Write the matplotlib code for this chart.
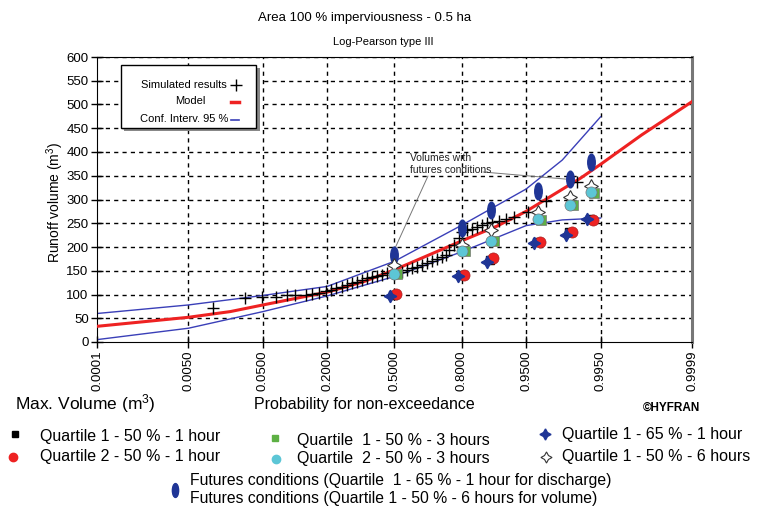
import matplotlib
matplotlib.use("Agg")
import matplotlib.pyplot as plt
import matplotlib.transforms as mtransforms
from matplotlib.path import Path
from matplotlib.lines import Line2D
from matplotlib.patches import Rectangle
from statistics import NormalDist

plt.rcParams['font.family'] = ['Liberation Sans', 'DejaVu Sans']
plt.rcParams['mathtext.fontset'] = 'custom'
plt.rcParams['mathtext.rm'] = 'Liberation Sans'
plt.rcParams['mathtext.it'] = 'Liberation Sans'

# probability axis
prob_ticks = [0.0001, 0.005, 0.05, 0.2, 0.5, 0.8, 0.95, 0.995, 0.9999]
prob_labels = ["0.0001", "0.0050", "0.0500", "0.2000", "0.5000",
               "0.8000", "0.9500", "0.9950", "0.9999"]
vol_ticks = list(range(0, 601, 50))

# Log-Pearson III model
model_p = [0.0001, 0.005, 0.02, 0.05, 0.2, 0.35, 0.5, 0.8, 0.9, 0.95, 0.99, 0.995, 0.999, 0.9999]
model_v = [33, 52, 64, 78, 105, 127, 152, 213, 244, 275, 345, 374, 436, 506]

# 95 % confidence interval
ci_p = [0.0001, 0.005, 0.05, 0.2, 0.5, 0.8, 0.95, 0.982, 0.995]
ci_upper = [60, 78, 98, 117, 170, 246, 322, 383, 474]
ci_lower = [5, 29, 64, 97, 138, 190, 245, 257, 261]

# simulated results
sim_p = [0.0118, 0.0312, 0.0482, 0.0685, 0.0887, 0.106, 0.1335, 0.150, 0.172, 0.195,
         0.213, 0.2315, 0.255, 0.2756, 0.297, 0.319, 0.342, 0.365, 0.389, 0.413,
         0.438, 0.4625, 0.5375, 0.562, 0.587, 0.611, 0.635, 0.658, 0.681, 0.703,
         0.7244, 0.741, 0.753, 0.7725, 0.791, 0.8015, 0.8186, 0.8345, 0.8497, 0.864,
         0.877, 0.8894, 0.905, 0.919, 0.933, 0.952, 0.9706, 0.9886]
sim_v = [71, 92, 95, 95, 99, 100, 99, 102, 104, 107,
         110, 113, 116, 120, 124, 127, 130, 134, 137, 139,
         141, 145, 148, 152, 155, 158, 162, 167, 171, 174,
         180, 183, 194, 204, 218, 232, 236, 237, 243, 246,
         251, 253, 255, 258, 264, 274, 297, 337]

# scenario volumes
scen_p = [0.5, 0.8, 0.886, 0.964, 0.9857, 0.993]
q1_50_1h = [100, 141, 172, 210, 231, 258]
q2_50_1h = [101, 141, 176, 211, 232, 257]
q1_50_3h = [145, 194, 215, 259, 291, 316]
q2_50_3h = [143, 191, 213, 258, 288, 315]
q1_65_1h = [96, 139, 169, 208, 225, 260]
q1_50_6h = [162, 204, 236, 274, 306, 328]
futures = [183, 240, 277, 317, 343, 380]

nd = NormalDist()


def zz(ps):
    return [nd.inv_cdf(p) for p in ps]


W, H = 758, 508


def fx(x):
    return x / W


def fy(y):
    return 1 - y / H


circ = Path.unit_circle()
ellipse = Path(circ.vertices * [0.45, 1.0], circ.codes)
star4 = (4, 1, 0)

RED = '#ee2222'
BLUE = '#3a3fb8'
DKBLUE = '#1f3596'
GREEN = '#5db044'
CYAN = '#5cc6d6'

fig = plt.figure(figsize=(W / 100, H / 100), dpi=100)
ax = fig.add_axes([fx(97), fy(342), (692 - 97) / W, (342 - 57) / H])


def shifted(dx, dy=0):
    # small pixel offset so overlapping markers stay visible
    return mtransforms.offset_copy(ax.transData, fig=fig, x=dx, y=dy, units='dots')


xmin, xmax = nd.inv_cdf(prob_ticks[0]), nd.inv_cdf(prob_ticks[-1])
ax.set_xlim(xmin, xmax)
ax.set_ylim(0, 600)

# grid
for z in zz(prob_ticks[1:-1]):
    ax.axvline(z, color='k', lw=1, ls=(0, (3, 3)), zorder=0)
for v in vol_ticks[1:]:
    ax.axhline(v, color='k', lw=1, ls=(0, (3, 3)), zorder=0)

ax.set_xticks(zz(prob_ticks))
ax.set_xticklabels(prob_labels, rotation=90, fontsize=9.5)
ax.set_yticks(vol_ticks)
ax.set_yticklabels([str(v) for v in vol_ticks], fontsize=9.5)
ax.tick_params(direction='inout', length=8, width=1, pad=2)
ax.spines['right'].set_color('#777777')
ax.spines['right'].set_linewidth(2.2)

# curves
ax.plot(zz(ci_p), ci_upper, color=BLUE, lw=1, zorder=2)
ax.plot(zz(ci_p), ci_lower, color=BLUE, lw=1, zorder=2)
ax.plot(zz(model_p), model_v, color=RED, lw=2.2, zorder=3)
ax.plot(zz(sim_p), sim_v, ls='none', marker='+', color='k', ms=9, mew=1, zorder=4)

# scenario markers
sz = zz(scen_p)
ax.plot(sz, futures, ls='none', marker=ellipse, color=DKBLUE, ms=12, zorder=5)
ax.plot(sz, q1_50_6h, ls='none', marker=star4, mfc='white', mec='#333333', ms=10, mew=0.8, zorder=5)
ax.plot(sz, q1_50_3h, ls='none', marker='s', mfc=GREEN, mec='#777777', ms=7, mew=0.5, zorder=5,
        transform=shifted(3, -1))
ax.plot(sz, q2_50_3h, ls='none', marker='o', mfc=CYAN, mec='#777777', ms=8, mew=0.5, zorder=6)
ax.plot(sz, q1_50_1h, ls='none', marker='s', color='k', ms=6, zorder=5, transform=shifted(-1))
ax.plot(sz, q2_50_1h, ls='none', marker='o', mfc=RED, mec='#aa2222', ms=8, mew=0.5, zorder=6,
        transform=shifted(2))
ax.plot(sz, q1_65_1h, ls='none', marker=star4, color=DKBLUE, ms=9, zorder=7, transform=shifted(-4))

# annotation
fig.text(fx(410), fy(153), "Volumes with\nfutures conditions", fontsize=7.5,
         va='top', ha='left', color='#222222', linespacing=1.2)
ax.annotate("", xy=(sz[0], futures[0] + 12), xycoords='data',
            xytext=(fx(428), fy(176)), textcoords='figure fraction',
            arrowprops=dict(arrowstyle='-', color='#777777', lw=0.7, shrinkA=0, shrinkB=0))
ax.annotate("", xy=(sz[4] - 0.05, futures[4]), xycoords='data',
            xytext=(fx(483), fy(172)), textcoords='figure fraction',
            arrowprops=dict(arrowstyle='-', color='#777777', lw=0.7, shrinkA=0, shrinkB=0))

# titles and axis labels
fig.text(fx(365), fy(18), "Area 100 % imperviousness - 0.5 ha", fontsize=9.5, ha='center', va='center')
fig.text(fx(383), fy(42), "Log-Pearson type III", fontsize=8, ha='center', va='center')
fig.text(fx(55), fy(202), "Runoff volume (m$^3$)", fontsize=10, rotation=90, ha='center', va='center')
fig.text(fx(15), fy(404), "Max. Volume (m$^3$)", fontsize=12.5, ha='left', va='center')
fig.text(fx(364), fy(404), "Probability for non-exceedance", fontsize=11.5, ha='center', va='center')
fig.text(fx(643), fy(408), "©HYFRAN", fontsize=8.5, fontweight='bold', ha='left', va='center')

# inset legend box
fig.add_artist(Rectangle((fx(124), fy(131)), (257 - 121) / W, (131 - 68) / H,
                         transform=fig.transFigure, fc='#888888', ec='none', zorder=10))
fig.add_artist(Rectangle((fx(121), fy(128)), (256 - 121) / W, (128 - 65) / H,
                         transform=fig.transFigure, fc='white', ec='k', lw=1, zorder=11))
box_items = [("Simulated results", 85, 184),
             ("Model", 101, 190),
             ("Conf. Interv. 95 %", 119, 184)]
for txt, yy, cx in box_items:
    fig.text(fx(cx), fy(yy), txt, fontsize=8, ha='center', va='center', zorder=12)
fig.add_artist(Line2D([fx(236)], [fy(85)], marker='+', color='k', ms=9, mew=1, ls='none',
                      transform=fig.transFigure, zorder=12))
fig.add_artist(Line2D([fx(231), fx(239)], [fy(102), fy(102)], color=RED, lw=2.5,
                      transform=fig.transFigure, zorder=12))
fig.add_artist(Line2D([fx(231), fx(239)], [fy(120), fy(120)], color=BLUE, lw=1.2,
                      transform=fig.transFigure, zorder=12))

# bottom legend
leg = [
    (15, 434, dict(marker='s', color='k', ms=5), 40, 436, "Quartile 1 - 50 % - 1 hour"),
    (13, 457, dict(marker='o', color=RED, ms=6), 40, 456, "Quartile 2 - 50 % - 1 hour"),
    (275, 438, dict(marker='s', color=GREEN, ms=5), 297, 440, "Quartile  1 - 50 % - 3 hours"),
    (276, 459, dict(marker='o', color=CYAN, ms=6), 297, 458, "Quartile  2 - 50 % - 3 hours"),
    (545, 434, dict(marker=star4, color=DKBLUE, ms=8), 562, 434, "Quartile 1 - 65 % - 1 hour"),
    (546, 457, dict(marker=star4, mfc='white', mec='#333333', ms=8, mew=0.8), 562, 456,
     "Quartile 1 - 50 % - 6 hours"),
]
for mx, my, mk, tx, ty, txt in leg:
    fig.add_artist(Line2D([fx(mx)], [fy(my)], ls='none', transform=fig.transFigure, **mk))
    fig.text(fx(tx), fy(ty), txt, fontsize=11.5, ha='left', va='center')

fig.add_artist(Line2D([fx(175)], [fy(490)], ls='none', marker=ellipse, color=DKBLUE, ms=10,
                      transform=fig.transFigure))
fig.text(fx(190), fy(481), "Futures conditions (Quartile  1 - 65 % - 1 hour for discharge)",
         fontsize=11.3, ha='left', va='center')
fig.text(fx(190), fy(499), "Futures conditions (Quartile 1 - 50 % - 6 hours for volume)",
         fontsize=11.3, ha='left', va='center')

fig.savefig("out.png", dpi=100)
